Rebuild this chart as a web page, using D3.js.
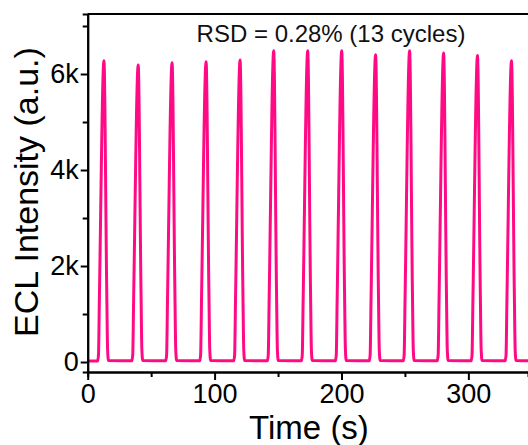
<!DOCTYPE html>
<html>
<head>
<meta charset="utf-8">
<script src="https://cdn.jsdelivr.net/npm/d3@7"></script>
<style>
  body { margin: 0; background: #fff; }
  svg { display: block; font-family: "Liberation Sans", Arial, sans-serif; }
  .axis path, .axis line { stroke: #000; stroke-width: 2px; }
  .axis text { fill: #000; font-size: 27px; font-family: "Liberation Sans", Arial, sans-serif; }
</style>
</head>
<body>
<div id="chart"></div>
<script>
const svgWidth = 528
const svgHeight = 445

// ECL trace (13 cycles)
const time = [
  0,
  7.8, 8.5, 9.2, 12.8, 15.0, 15.7, 16.4,
  34.8, 35.5, 36.2, 39.8, 42.0, 42.7, 43.4,
  61.5, 62.2, 62.9, 66.5, 68.7, 69.4, 70.1,
  88.3, 89.0, 89.7, 93.3, 95.5, 96.2, 96.9,
  115.1, 115.8, 116.5, 120.1, 122.3, 123.0, 123.7,
  141.6, 142.3, 143.0, 146.6, 148.8, 149.5, 150.2,
  168.4, 169.1, 169.8, 173.4, 175.6, 176.3, 177.0,
  195.2, 195.9, 196.6, 200.2, 202.4, 203.1, 203.8,
  221.9, 222.6, 223.3, 226.9, 229.1, 229.8, 230.5,
  248.7, 249.4, 250.1, 253.7, 255.9, 256.6, 257.3,
  275.5, 276.2, 276.9, 280.5, 282.7, 283.4, 284.1,
  302.2, 302.9, 303.6, 307.2, 309.4, 310.1, 310.8,
  329.0, 329.7, 330.4, 334.0, 336.2, 336.9, 337.6,
  348
]
const intensity = [
  20,
  20, 150, 1300, 6275, 1500, 250, 30,
  25, 150, 1300, 6190, 1500, 250, 30,
  25, 150, 1300, 6235, 1500, 250, 30,
  25, 150, 1300, 6255, 1500, 250, 30,
  25, 150, 1300, 6290, 1500, 250, 30,
  25, 150, 1300, 6485, 1500, 250, 30,
  25, 150, 1300, 6485, 1500, 250, 30,
  25, 150, 1300, 6485, 1500, 250, 30,
  25, 150, 1300, 6400, 1500, 250, 30,
  25, 150, 1300, 6485, 1500, 250, 30,
  25, 150, 1300, 6440, 1500, 250, 30,
  25, 150, 1300, 6385, 1500, 250, 30,
  25, 150, 1300, 6275, 1500, 250, 30,
  25
]

const xTicks = [0, 100, 200, 300]
const xMinor = [50, 150, 250]
const yTicks = [0, 2000, 4000, 6000]
const yTickLabels = ["0", "2k", "4k", "6k"]
const yMinor = [1000, 3000, 5000, 7000]

const margin = { left: 87.7, right: 0, top: 14, bottom: 73 }
const width = svgWidth - margin.left - margin.right
const height = svgHeight - margin.top - margin.bottom

let svg = d3.select("#chart").append("svg")
  .attr("width", svgWidth)
  .attr("height", svgHeight)

let g = svg.append("g")
  .attr("transform", "translate(" + margin.left + ", " + margin.top + ")")

let x = d3.scaleLinear().domain([0, 347]).range([0, width])
let y = d3.scaleLinear().domain([-208, 7250]).range([height, 0])

// clip so the trace stays inside the frame
svg.append("defs").append("clipPath").attr("id", "clip")
  .append("rect").attr("width", width).attr("height", height)

let data = time.map((t, i) => ({ t: t, v: intensity[i] }))

let line = d3.line()
  .x(d => x(d.t))
  .y(d => y(d.v))
  .curve(d3.curveMonotoneX)

g.append("path")
  .datum(data)
  .attr("clip-path", "url(#clip)")
  .attr("fill", "none")
  .attr("stroke", "#ff0a84")
  .attr("stroke-width", 3)
  .attr("stroke-linejoin", "round")
  .attr("d", line)

// minor ticks
g.append("g").attr("class", "axis")
  .attr("transform", "translate(0, " + height + ")")
  .call(d3.axisBottom(x).tickValues(xMinor).tickSize(5).tickFormat(""))
g.append("g").attr("class", "axis")
  .call(d3.axisLeft(y).tickValues(yMinor).tickSize(5).tickFormat(""))

// major axes
g.append("g").attr("class", "axis")
  .attr("transform", "translate(0, " + height + ")")
  .call(d3.axisBottom(x).tickValues(xTicks).tickSize(8).tickSizeOuter(0).tickPadding(4))
g.append("g").attr("class", "axis")
  .call(d3.axisLeft(y).tickValues(yTicks).tickSize(7).tickSizeOuter(0).tickPadding(2)
    .tickFormat((d, i) => yTickLabels[i]))

// top frame line
g.append("line")
  .attr("x1", 0).attr("x2", width + 5)
  .attr("y1", 0).attr("y2", 0)
  .attr("stroke", "#000").attr("stroke-width", 2)

// labels
svg.append("text")
  .attr("x", 331)
  .attr("y", 42.3)
  .attr("font-size", "24px")
  .attr("text-anchor", "middle")
  .attr("fill", "#111")
  .text("RSD = 0.28% (13 cycles)")

svg.append("text")
  .attr("x", 309)
  .attr("y", 439)
  .attr("font-size", "33px")
  .attr("text-anchor", "middle")
  .text("Time (s)")

svg.append("text")
  .attr("transform", "translate(38, 192) rotate(-90)")
  .attr("font-size", "34px")
  .attr("text-anchor", "middle")
  .text("ECL Intensity (a.u.)")
</script>
</body>
</html>
